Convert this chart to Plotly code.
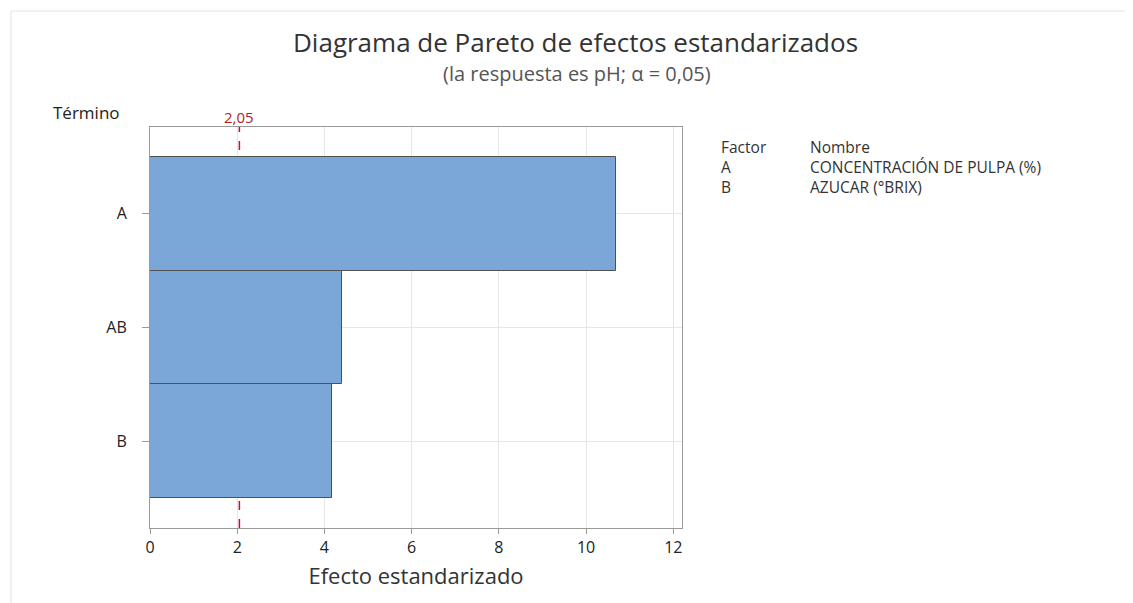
import plotly.graph_objects as go

terms = ["A", "AB", "B"]
effects = [10.69, 4.41, 4.18]
critical = 2.05
x_ticks = [0, 2, 4, 6, 8, 10, 12]
factor_codes = ["A", "B"]
factor_names = ["CONCENTRACIÓN DE PULPA (%)", "AZUCAR (°BRIX)"]

FONT = "Open Sans"
OFF = 8  # page body margin
# plot box on screen (px)
PX0, PX1, PY0, PY1 = 150, 682, 127, 528
W, H = 1133 - OFF, 603 - OFF
L, T = PX0 - OFF, PY0 - OFF
R, B = W - L - (PX1 - PX0), H - T - (PY1 - PY0)


def sx(x):
    return (x - PX0) / (PX1 - PX0)


def sy(y):
    return (PY1 - y) / (PY1 - PY0)


fig = go.Figure()
fig.add_trace(go.Bar(
    x=effects, y=terms, orientation="h", width=1,
    marker=dict(color="#7BA6D8", line=dict(color="#505050", width=1)),
    hoverinfo="x+y",
))

# critical value line, behind the bars
fig.add_shape(type="line", xref="x", yref="paper", x0=critical, x1=critical,
              y0=0, y1=1, layer="below",
              line=dict(color="#C8102E", width=1.5, dash="dash"))
fig.add_annotation(x=critical, xref="x", y=sy(117), yref="paper", yanchor="middle",
                   text="2,05", showarrow=False,
                   font=dict(family=FONT, size=15, color="#B22222"))

# light frame of the original graph window
for x0, y0, x1, y1 in ((11, 11, 1140, 11), (11, 11, 11, 610)):
    fig.add_shape(type="line", xref="paper", yref="paper",
                  x0=sx(x0), y0=sy(y0), x1=sx(x1), y1=sy(y1),
                  line=dict(color="#e2e2e2", width=1))

ann = [
    ("Diagrama de Pareto de efectos estandarizados", 575, 42, 26, "#333333"),
    ("(la respuesta es pH; α = 0,05)", 577, 74, 20, "#555555"),
    ("Término", 86, 112, 17, "#222222"),
]
for txt, x, y, size, col in ann:
    fig.add_annotation(xref="paper", yref="paper", showarrow=False,
                       xanchor="center", yanchor="middle", text=txt,
                       x=sx(x), y=sy(y), font=dict(family=FONT, size=size, color=col))

# factor table: one multi-line text per column
columns = [(719, ["Factor"] + factor_codes), (808, ["Nombre"] + factor_names)]
for xx, lines in columns:
    fig.add_annotation(xref="paper", yref="paper", showarrow=False,
                       xanchor="left", yanchor="middle", align="left",
                       x=sx(xx), y=sy(167), text="<br>".join(lines),
                       font=dict(family=FONT, size=15.5, color="#333333"))

fig.update_layout(
    width=W, height=H,
    margin=dict(l=L, r=R, t=T, b=B),
    paper_bgcolor="white", plot_bgcolor="white",
    showlegend=False, bargap=0,
    font=dict(family=FONT, color="#333333"),
    xaxis=dict(range=[0, 12.2], tickvals=x_ticks, showgrid=True, gridcolor="#e6e6e6",
               showline=True, linecolor="#9a9a9a", mirror=True, ticks="outside",
               ticklen=5, tickcolor="#9a9a9a", zeroline=False,
               tickfont=dict(size=16, color="#222222"),
               title=dict(text="Efecto estandarizado", standoff=11,
                          font=dict(size=22, color="#333333"))),
    yaxis=dict(type="category", categoryarray=terms, range=[2.76, -0.76],
               showgrid=True, gridcolor="#e6e6e6",
               showline=True, linecolor="#9a9a9a", mirror=True, ticks="outside",
               ticklen=7, tickcolor="#9a9a9a", ticklabelstandoff=12,
               tickfont=dict(size=16, color="#222222")),
)

fig.write_html("out.html")
